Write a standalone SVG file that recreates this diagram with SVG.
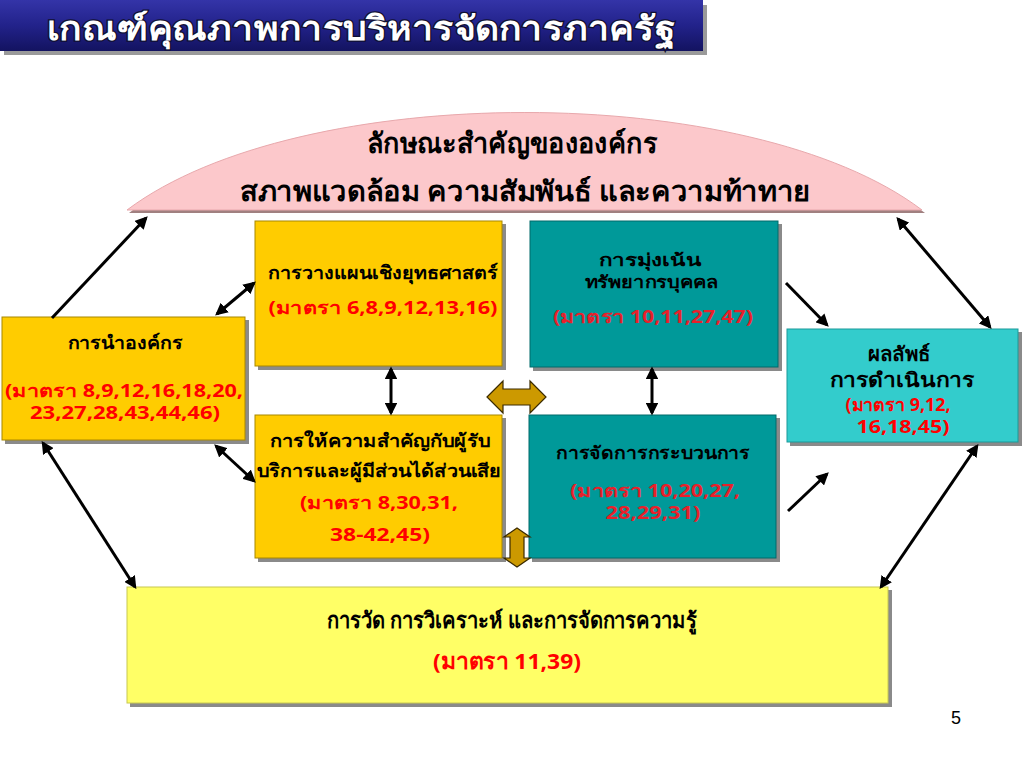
<svg xmlns="http://www.w3.org/2000/svg" width="1024" height="768" viewBox="0 0 1024 768">
<defs>
<linearGradient id="tg" x1="0" y1="0" x2="0" y2="1">
<stop offset="0" stop-color="#3434a8"/>
<stop offset="0.5" stop-color="#22228a"/>
<stop offset="1" stop-color="#131360"/>
</linearGradient>
<marker id="ah" viewBox="0 0 10 10" refX="8" refY="5" markerWidth="4.2" markerHeight="4.2" orient="auto-start-reverse" markerUnits="strokeWidth">
<path d="M0,0 L10,5 L0,10 z" fill="#000"/>
</marker>
<style>
.t{font-family:"Noto Sans","DejaVu Sans",sans-serif;font-weight:bold;text-anchor:middle}
.blk{fill:#000;font-size:18px}
.red{fill:#ff0000;font-size:18px}
.red2{fill:#e8202a;font-size:18px}
.cond{font-family:"Noto Sans","DejaVu Sans",sans-serif;font-weight:bold;text-anchor:middle}
.sh{fill:#8a8a8a}
.gold{fill:#ffcc00;stroke:#a88700;stroke-width:1}
.teal{fill:#009999;stroke:#006a6a;stroke-width:1}
.conn line{stroke:#000;stroke-width:3;fill:none}
.ga{fill:#cc9900;stroke:#3a2a00;stroke-width:1.2}
</style>
</defs>
<rect width="1024" height="768" fill="#fff"/>

<g id="title">
<rect x="4" y="5" width="703" height="50" fill="#9a9a9a"/>
<rect x="0" y="0" width="703" height="51" fill="url(#tg)"/>
<text x="361" y="40" font-family="Noto Sans, DejaVu Sans, sans-serif" font-size="33" font-weight="bold" text-anchor="middle" fill="#ffffff" stroke="#101030" stroke-width="2.5" paint-order="stroke" textLength="628" lengthAdjust="spacingAndGlyphs">เกณฑ์คุณภาพการบริหารจัดการภาครัฐ</text>
</g>

<g id="arch">
<path d="M129,213 C302,83 752,83 925,213 Z" fill="#a08080"/>
<path d="M127,210 C300,80 750,80 922,210 Z" fill="#fcc8cb" stroke="#e8a8ac" stroke-width="1"/>
<text x="512" y="153" class="cond" font-size="28" fill="#000" textLength="290" lengthAdjust="spacingAndGlyphs">ลักษณะสำคัญขององค์กร</text>
<text x="525" y="201" class="cond" font-size="28" fill="#000" textLength="570" lengthAdjust="spacingAndGlyphs">สภาพแวดล้อม ความสัมพันธ์ และความท้าทาย</text>
</g>

<g id="leadership">
<rect x="5" y="320" width="244" height="124" class="sh"/>
<rect x="2" y="317" width="243" height="123" class="gold"/>
<text x="125" y="349" class="t blk" textLength="115" lengthAdjust="spacingAndGlyphs">การนำองค์กร</text>
<text x="124" y="397" class="t red" font-size="17" textLength="238" lengthAdjust="spacingAndGlyphs">(มาตรา  8,9,12,16,18,20,</text>
<text x="125" y="419" class="t red" font-size="17" textLength="190" lengthAdjust="spacingAndGlyphs">23,27,28,43,44,46)</text>
</g>

<g id="strategy">
<rect x="258" y="224" width="248" height="146" class="sh"/>
<rect x="255" y="221" width="247" height="145" class="gold"/>
<text x="383" y="279" class="t blk" textLength="230" lengthAdjust="spacingAndGlyphs">การวางแผนเชิงยุทธศาสตร์</text>
<text x="383" y="314" class="t red" textLength="229" lengthAdjust="spacingAndGlyphs">(มาตรา  6,8,9,12,13,16)</text>
</g>

<g id="customer">
<rect x="258" y="418" width="248" height="144" class="sh"/>
<rect x="255" y="415" width="247" height="143" class="gold"/>
<text x="380" y="447" class="t blk" textLength="220" lengthAdjust="spacingAndGlyphs">การให้ความสำคัญกับผู้รับ</text>
<text x="379" y="477" class="t blk" textLength="245" lengthAdjust="spacingAndGlyphs">บริการและผู้มีส่วนได้ส่วนเสีย</text>
<text x="379" y="509" class="t red" textLength="158" lengthAdjust="spacingAndGlyphs">(มาตรา  8,30,31,</text>
<text x="380" y="541" class="t red" textLength="100" lengthAdjust="spacingAndGlyphs">38-42,45)</text>
</g>

<g id="workforce">
<rect x="533" y="224" width="249" height="147" class="sh"/>
<rect x="530" y="221" width="248" height="146" class="teal"/>
<text x="650" y="266" class="t" font-size="17" fill="#000" textLength="103" lengthAdjust="spacingAndGlyphs">การมุ่งเน้น</text>
<text x="651" y="288" class="t" font-size="17" fill="#000" textLength="133" lengthAdjust="spacingAndGlyphs">ทรัพยากรบุคคล</text>
<text x="653" y="323" class="t red2" textLength="200" lengthAdjust="spacingAndGlyphs">(มาตรา 10,11,27,47)</text>
</g>

<g id="process">
<rect x="532" y="418" width="248" height="144" class="sh"/>
<rect x="529" y="415" width="247" height="143" class="teal"/>
<text x="653" y="459" class="t blk" textLength="194" lengthAdjust="spacingAndGlyphs">การจัดการกระบวนการ</text>
<text x="655" y="497" class="t red2" textLength="170" lengthAdjust="spacingAndGlyphs">(มาตรา 10,20,27,</text>
<text x="653" y="519" class="t red2" textLength="95" lengthAdjust="spacingAndGlyphs">28,29,31)</text>
</g>

<g id="results">
<rect x="790" y="332" width="232" height="114" class="sh"/>
<rect x="787" y="329" width="231" height="113" fill="#33cccc" stroke="#1a9a9a" stroke-width="1"/>
<text x="899" y="361" class="t" font-size="20" fill="#000" textLength="62" lengthAdjust="spacingAndGlyphs">ผลลัพธ์</text>
<text x="902" y="387" class="t" font-size="20" fill="#000" textLength="145" lengthAdjust="spacingAndGlyphs">การดำเนินการ</text>
<text x="898" y="411" class="t red" font-size="17" textLength="105" lengthAdjust="spacingAndGlyphs">(มาตรา 9,12,</text>
<text x="903" y="433" class="t red" font-size="17" textLength="93" lengthAdjust="spacingAndGlyphs">16,18,45)</text>
</g>

<g id="measurement">
<rect x="130" y="590" width="762" height="117" class="sh"/>
<rect x="127" y="587" width="761" height="116" fill="#ffff66" stroke="#c8c850" stroke-width="1"/>
<text x="512" y="628" class="cond" font-size="22" fill="#000" textLength="370" lengthAdjust="spacingAndGlyphs">การวัด การวิเคราะห์ และการจัดการความรู้</text>
<text x="507" y="669" class="cond" font-size="22" fill="#ff0000" textLength="148" lengthAdjust="spacingAndGlyphs">(มาตรา  11,39)</text>
</g>

<g id="connectors" class="conn">
<line x1="52" y1="318" x2="146" y2="218" marker-end="url(#ah)"/>
<line x1="217" y1="314" x2="254" y2="283" marker-start="url(#ah)" marker-end="url(#ah)"/>
<line x1="216" y1="446" x2="254" y2="481" marker-start="url(#ah)" marker-end="url(#ah)"/>
<line x1="43" y1="443" x2="135" y2="587" marker-start="url(#ah)" marker-end="url(#ah)"/>
<line x1="391" y1="369" x2="391" y2="413" marker-start="url(#ah)" marker-end="url(#ah)"/>
<line x1="652" y1="369" x2="652" y2="413" marker-start="url(#ah)" marker-end="url(#ah)"/>
<line x1="786" y1="283" x2="827" y2="325" marker-end="url(#ah)"/>
<line x1="788" y1="511" x2="827" y2="474" marker-end="url(#ah)"/>
<line x1="898" y1="219" x2="990" y2="327" marker-start="url(#ah)" marker-end="url(#ah)"/>
<line x1="977" y1="446" x2="881" y2="587" marker-start="url(#ah)" marker-end="url(#ah)"/>
<path class="ga" d="M487,397 L503,381 L503,389 L530,389 L530,381 L546,397 L530,413 L530,405 L503,405 L503,413 Z"/>
<path class="ga" d="M517,528 L530,537 L524,537 L524,558 L530,558 L517,567 L504,558 L510,558 L510,537 L504,537 Z"/>
</g>

<text x="956" y="724" font-family="Liberation Sans, Arial, sans-serif" font-size="18" fill="#000" text-anchor="middle">5</text>
</svg>
